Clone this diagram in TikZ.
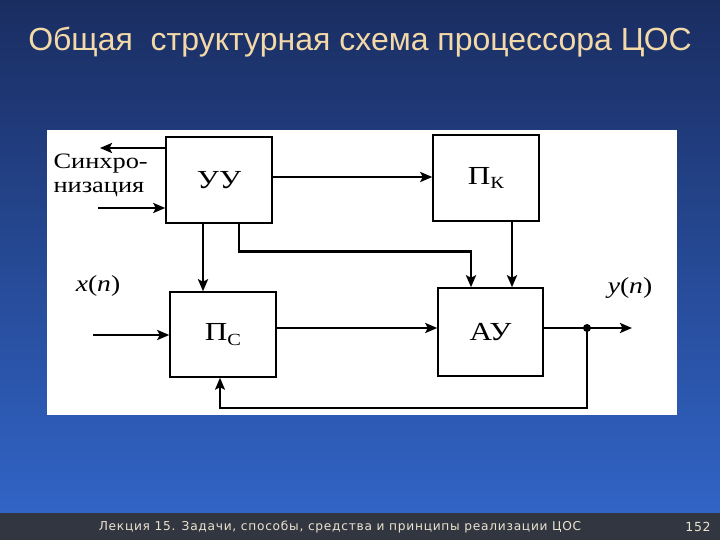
\documentclass[tikz,border=0pt]{standalone}
\usepackage{fontspec}
\setmainfont{Liberation Serif}
\newfontfamily\diafont[FakeStretch=1.2]{Liberation Serif}
\newfontfamily\titlefont{Liberation Sans}
\newfontfamily\footfont[LetterSpace=6]{DejaVu Sans}
\usetikzlibrary{arrows.meta, calc}
\definecolor{slidetop}{RGB}{26,45,97}
\definecolor{slidebot}{RGB}{49,100,198}
\definecolor{titlecol}{RGB}{243,217,168}
\definecolor{footcol}{RGB}{50,54,64}
\definecolor{foottext}{RGB}{236,228,208}

\tikzset{
  block/.style={draw, line width=1.5pt, fill=white, minimum width=106pt, minimum height=86pt,
    inner sep=0pt, font=\diafont\fontsize{26}{28}\selectfont},
  wire/.style={line width=2.6pt},
  sig/.style={wire, -{Stealth[length=12pt, width=10pt, inset=2.5pt]}},
  lbl/.style={font=\diafont\fontsize{23}{25}\selectfont}
}
\newcommand{\idx}[1]{\raisebox{-0.35ex}{\fontsize{17}{17}\selectfont #1}}

\begin{document}
\begin{tikzpicture}[x=1pt, y=-1pt]
  \useasboundingbox (0,0) rectangle (720,540);
  % slide
  \shade[top color=slidetop, bottom color=slidebot] (0,0) rectangle (720,513);
  \fill[footcol] (0,513) rectangle (720,540);
  \fill[white] (47,130) rectangle (677,415);
  \node[text=titlecol, font=\titlefont\fontsize{32}{34}\selectfont] (title) at (360,42)
    {Общая\ \ структурная схема процессора ЦОС};

  % blocks
  \node[block] (uu) at (219,180) {УУ};
  \node[block] (pk) at (486,178) {П\idx{К}};
  \node[block, minimum height=85pt] (pc) at (223,334.5) {П\idx{С}};
  \node[block, minimum width=105pt, minimum height=88pt] (au) at (490.5,332) {АУ};

  \node[lbl, align=left, anchor=west, font=\diafont\fontsize{22}{24}\selectfont] (sync) at (50,175) {Синхро-\\низация};
  \node[lbl] (xlab) at (98,286) {\textit{x}(\textit{n})};
  \node[lbl] (ylab) at (630,288) {\textit{y}(\textit{n})};

  \coordinate (syncout) at (100,148);
  \coordinate (syncin) at (98,208);
  \coordinate (xin) at (93,335);
  \coordinate (tap) at (587,328);
  \coordinate (yout) at (632,328);

  % connections
  \draw[sig] (uu.west |- syncout) -- (syncout);
  \draw[sig] (syncin) -- (syncin -| uu.west);
  \draw[sig] ([yshift=3pt]uu.east) -- ([yshift=3pt]uu.east -| pk.west);
  \draw[sig] ([xshift=-16pt]uu.south) -- ([xshift=-16pt]uu.south |- pc.north);
  \draw[sig] ([xshift=20pt]uu.south) -- ++(0,28) -| ([xshift=-19.5pt]au.north);
  \draw[sig] ([xshift=26pt]pk.south) -- ([xshift=26pt]pk.south |- au.north);
  \draw[sig] (xin) -- (xin -| pc.west);
  \draw[sig] ([yshift=6.5pt]pc.east) -- ([yshift=6.5pt]pc.east -| au.west);
  \draw[wire] ([yshift=4pt]au.east) -- (tap);
  \draw[sig] (tap) -- (yout);
  \fill (tap) circle (4pt);
  \draw[sig, line width=1.8pt] (tap) -- ++(0,80) -| ([xshift=-3pt]pc.south);

  % footer
  \node[text=foottext, font=\footfont\fontsize{12.2}{13}\selectfont] (foot) at (340,527)
    {Лекция 15. Задачи, способы, средства и принципы реализации ЦОС};
  \node[text=foottext, font=\footfont\fontsize{12.5}{13}\selectfont] (page) at (698,527) {152};
\end{tikzpicture}
\end{document}
